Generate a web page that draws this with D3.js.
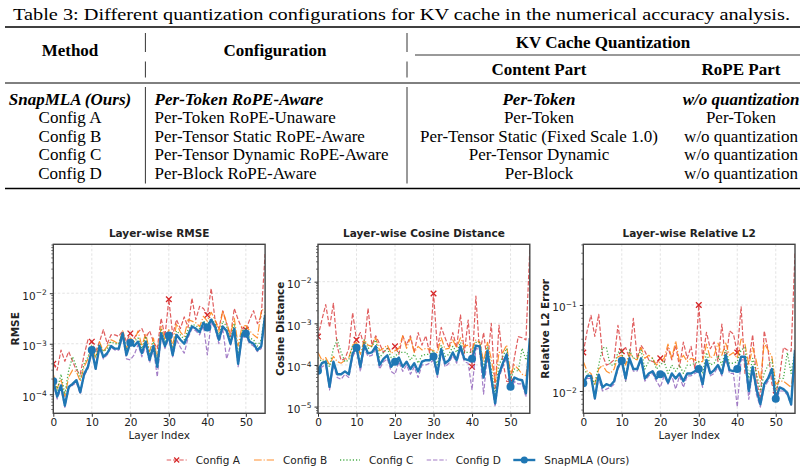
<!DOCTYPE html>
<html>
<head>
<style>
  body {
    margin: 0;
    background-color: #fff;
  }
  svg { display: block; }
  .tbl {
    font-family: 'Liberation Serif', 'Times New Roman', serif;
    font-size: 17px;
    fill: #000;
  }
  .chart {
    font-family: 'DejaVu Sans', sans-serif;
    font-size: 10px;
    fill: #222;
  }
</style>
  <script src="https://d3js.org/d3.v7.min.js"></script>
</head>
<body>
<script>
// ---- table data ----
const tableTitle = 'Table 3: Different quantization configurations for KV cache in the numerical accuracy analysis.';
const methods = ['SnapMLA (Ours)', 'Config A', 'Config B', 'Config C', 'Config D'];
const configurations = ['Per-Token RoPE-Aware', 'Per-Token RoPE-Unaware', 'Per-Tensor Static RoPE-Aware',
  'Per-Tensor Dynamic RoPE-Aware', 'Per-Block RoPE-Aware'];
const contentParts = ['Per-Token', 'Per-Token', 'Per-Tensor Static (Fixed Scale 1.0)', 'Per-Tensor Dynamic', 'Per-Block'];
const ropeParts = ['w/o quantization', 'Per-Token', 'w/o quantization', 'w/o quantization', 'w/o quantization'];

// ---- chart data (layer 0..55) ----
const seriesNames = ['Config A', 'Config B', 'Config C', 'Config D', 'SnapMLA (Ours)'];
const xTicks = [0, 10, 20, 30, 40, 50];

const rmseA = [4e-4, 3e-4, 7.5e-4, 4.5e-4, 7e-4, 4.5e-4, 3e-4, 2.5e-4, 6e-4, 1.2e-3,
  1.1e-3, 7e-4, 1.1e-3, 1.9e-3, 1e-3, 1.5e-3, 1.5e-3, 1.4e-3, 1.8e-3, 1.1e-3,
  1.6e-3, 1.3e-3, 1.7e-3, 2e-3, 1.3e-3, 1.8e-3, 1.1e-3, 8e-4, 3.2e-3, 1.4e-3,
  7.6e-3, 1.5e-3, 3e-3, 2e-3, 3.4e-3, 2.1e-3, 8e-3, 3e-3, 5.5e-3, 5e-3,
  3.7e-3, 1.25e-2, 3e-3, 2e-3, 4.5e-3, 2.5e-3, 1.4e-3, 5e-3, 3e-3, 2e-3,
  1.9e-3, 3e-3, 4.5e-3, 2.5e-3, 3.5e-3, 6e-2];
const rmseB = [2.5e-4, 1.3e-4, 2e-4, 9e-5, 2.2e-4, 3e-4, 2.8e-4, 1.8e-4, 3.5e-4, 5e-4,
  9e-4, 5e-4, 1.1e-3, 7e-4, 9e-4, 1.2e-3, 1.1e-3, 1e-3, 1.8e-3, 8e-4,
  1.3e-3, 1.1e-3, 1.8e-3, 9e-4, 1.6e-3, 7e-4, 1.3e-3, 5e-4, 2.2e-3, 1.2e-3,
  1.9e-3, 9e-4, 2.5e-3, 1.7e-3, 1.4e-3, 3e-3, 2.8e-3, 2.6e-3, 2.2e-3, 3.5e-3,
  2.8e-3, 4.2e-3, 3e-3, 1.7e-3, 4.5e-3, 2.6e-3, 1.5e-3, 3.2e-3, 9e-4, 2.2e-3,
  2.3e-3, 1.8e-3, 1.5e-3, 1.3e-3, 4.5e-3, 5e-3];
const rmseC = [2.2e-4, 1.2e-4, 2.5e-4, 1e-4, 3e-4, 5.5e-4, 3.5e-4, 2e-4, 4e-4, 5.5e-4,
  9.5e-4, 5.5e-4, 1e-3, 7e-4, 8e-4, 1.1e-3, 1e-3, 1e-3, 1.7e-3, 7.5e-4,
  1.2e-3, 1.1e-3, 1.3e-3, 8e-4, 1.4e-3, 6e-4, 1.1e-3, 4.5e-4, 1.9e-3, 1.1e-3,
  1.6e-3, 8e-4, 1.8e-3, 1.5e-3, 1.2e-3, 1.9e-3, 2.4e-3, 2.3e-3, 2e-3, 2.8e-3,
  2.4e-3, 3.2e-3, 2.5e-3, 1.4e-3, 2.8e-3, 2.2e-3, 1.2e-3, 2.5e-3, 6e-4, 1.8e-3,
  2e-3, 1.3e-3, 1.2e-3, 9e-4, 1.2e-3, 4.5e-3];
const rmseD = [1.6e-4, 8e-5, 1.3e-4, 5.5e-5, 1.3e-4, 1.5e-4, 1.7e-4, 1e-4, 2.3e-4, 3.2e-4,
  7e-4, 3e-4, 8.5e-4, 5e-4, 6e-4, 8.5e-4, 7.5e-4, 7.5e-4, 1.4e-3, 5e-4,
  4.8e-4, 6e-4, 9.5e-4, 5.5e-4, 9e-4, 4.2e-4, 8e-4, 2.2e-4, 1.4e-3, 8e-4,
  1.3e-3, 5.5e-4, 1.2e-3, 8.5e-4, 6.5e-4, 1.3e-3, 2e-3, 1.8e-3, 1.5e-3, 2.3e-3,
  6e-4, 2.7e-3, 2e-3, 1e-3, 2e-3, 5e-4, 9e-4, 1.8e-3, 3.5e-4, 1.3e-3,
  1.4e-3, 1e-3, 9e-4, 7e-4, 8e-4, 3.5e-3];
const rmseOurs = [1.8e-4, 9e-5, 1.5e-4, 6e-5, 1.4e-4, 1.6e-4, 1.9e-4, 1.1e-4, 2.5e-4, 3.5e-4,
  7.5e-4, 3.2e-4, 9e-4, 5.5e-4, 6.5e-4, 9e-4, 8e-4, 8e-4, 1.6e-3, 6e-4,
  1.05e-3, 9e-4, 1.1e-3, 6.5e-4, 1.1e-3, 4.8e-4, 9e-4, 3.5e-4, 1.6e-3, 9e-4,
  1.45e-3, 6e-4, 1.5e-3, 1.2e-3, 1e-3, 1.5e-3, 2.2e-3, 2e-3, 1.7e-3, 2.6e-3,
  2.1e-3, 3e-3, 2.2e-3, 1.2e-3, 2.2e-3, 1.8e-3, 1e-3, 2e-3, 4e-4, 1.5e-3,
  1.6e-3, 1.1e-3, 1e-3, 7.5e-4, 9e-4, 3.7e-3];

const cosA = [4.8e-4, 1.2e-3, 2.8e-3, 8e-4, 3e-3, 2.7e-4, 1.3e-4, 1.4e-4, 2.5e-4, 1.8e-3,
  4e-4, 6e-4, 2.8e-4, 2.3e-3, 3e-4, 5e-4, 3.2e-4, 2e-4, 2.5e-4, 2.3e-4,
  2.8e-4, 1.8e-4, 5e-4, 3e-4, 5e-4, 2e-4, 6e-4, 3e-4, 5e-4, 1.9e-4,
  5.2e-3, 2.5e-4, 8e-4, 4.5e-4, 2.6e-4, 6e-4, 2.6e-4, 1.6e-3, 1.9e-4, 1.2e-3,
  9e-5, 4.5e-3, 1.8e-4, 6e-4, 1.1e-4, 1e-3, 2.5e-5, 9e-4, 1.2e-4, 4e-5,
  4e-5, 1.5e-4, 4.8e-4, 4.5e-4, 4e-4, 6e-2];
const cosB = [2e-4, 1.3e-4, 1.5e-4, 1e-4, 1.6e-4, 1.2e-4, 1.1e-4, 1.3e-4, 1.5e-4, 3e-4,
  3.5e-4, 1.8e-4, 4e-4, 3e-4, 2.8e-4, 4.5e-4, 2.2e-4, 2.5e-4, 3e-4, 1.9e-4,
  2.2e-4, 2.5e-4, 5e-4, 2.5e-4, 4.5e-4, 2e-4, 2.8e-4, 2.3e-4, 2.5e-4, 2.4e-4,
  2.2e-4, 2e-4, 4.5e-4, 2.4e-4, 2.5e-4, 4e-4, 2.6e-4, 4.5e-4, 2.8e-4, 3e-4,
  2.4e-4, 4e-4, 3.5e-4, 1.2e-4, 3.5e-4, 1.4e-4, 4e-5, 2e-4, 2e-4, 3e-4,
  6e-5, 1e-4, 8e-5, 6e-5, 5.5e-5, 3.5e-4];
const cosC = [1.5e-4, 1.2e-4, 1.3e-4, 9e-5, 2.5e-4, 4e-4, 2e-4, 1.2e-4, 1.3e-4, 3e-4,
  3e-4, 1e-4, 4e-4, 2.5e-4, 2.8e-4, 4e-4, 1.5e-4, 2e-4, 2.5e-4, 1.5e-4,
  1.6e-4, 2e-4, 2e-4, 2e-4, 1.3e-4, 1.8e-4, 1.1e-4, 1.7e-4, 1.8e-4, 1.8e-4,
  2.2e-4, 1e-4, 3e-4, 1.6e-4, 1.8e-4, 2.8e-4, 2e-4, 3.5e-4, 2e-4, 2e-4,
  2e-4, 3.5e-4, 3.5e-4, 8e-5, 2.8e-4, 8e-5, 2e-5, 1e-4, 1.6e-4, 2.5e-4,
  4.5e-5, 8e-5, 7e-5, 2.5e-4, 1.3e-4, 3e-4];
const cosD = [6e-5, 9e-5, 1e-4, 2.5e-5, 1e-4, 5e-5, 4.5e-5, 6e-5, 5e-5, 1.6e-4,
  2.3e-4, 7e-5, 2.5e-4, 1.6e-4, 1.7e-4, 2.4e-4, 8e-5, 1.2e-4, 1.4e-4, 7e-5,
  6e-5, 1.2e-4, 7e-5, 1e-4, 6e-5, 9e-5, 5e-5, 1e-4, 1e-4, 1.1e-4,
  1.3e-4, 5e-5, 2e-4, 9e-5, 1.1e-4, 1.7e-4, 1.1e-4, 2.4e-4, 1.2e-4, 1.1e-4,
  2.5e-5, 2.5e-4, 2.3e-4, 2e-5, 1.8e-4, 4e-5, 1e-5, 5e-5, 9e-5, 1.5e-4,
  2.5e-5, 4e-5, 3.5e-5, 3.5e-5, 1.7e-5, 3.5e-4];
const cosOurs = [7.3e-5, 1.1e-4, 1.2e-4, 3e-5, 1.2e-4, 6e-5, 6e-5, 7e-5, 6e-5, 1.9e-4,
  2.6e-4, 9e-5, 3e-4, 1.9e-4, 2e-4, 2.8e-4, 1e-4, 1.4e-4, 1.7e-4, 9e-5,
  1.2e-4, 1.5e-4, 9e-5, 1.2e-4, 8e-5, 1.1e-4, 7e-5, 1.2e-4, 1.3e-4, 1.3e-4,
  1.6e-4, 6e-5, 2.4e-4, 1.1e-4, 1.3e-4, 2e-4, 1.3e-4, 2.8e-4, 1.4e-4, 1.3e-4,
  1.4e-4, 2.9e-4, 2.8e-4, 5e-5, 2.2e-4, 5e-5, 1.2e-5, 6e-5, 1.1e-4, 1.8e-4,
  3e-5, 5e-5, 4.5e-5, 4.3e-5, 2.1e-5, 4.4e-4];

const l2A = [2.8e-2, 5e-2, 7.6e-2, 4.3e-2, 7.8e-2, 2.6e-2, 2e-2, 2.1e-2, 2.3e-2, 5.8e-2,
  2.9e-2, 3.2e-2, 2.4e-2, 7e-2, 2.4e-2, 3.4e-2, 2.9e-2, 2.3e-2, 2.2e-2, 2.1e-2,
  2.4e-2, 2.1e-2, 3.2e-2, 2.3e-2, 3.4e-2, 1.9e-2, 3.7e-2, 2.4e-2, 3.3e-2, 1.8e-2,
  1e-1, 2.4e-2, 4.8e-2, 3.1e-2, 3.7e-2, 2.2e-2, 6e-2, 2.1e-2, 5e-2, 4.6e-2,
  2.8e-2, 9.5e-2, 1.6e-2, 2.2e-2, 4.5e-2, 1.4e-2, 7.5e-3, 5e-2, 3e-2, 1.2e-2,
  9e-3, 1.5e-2, 3.2e-2, 3e-2, 2.9e-2, 4e-1];
const l2B = [2.2e-2, 1.7e-2, 1.6e-2, 1.2e-2, 1.8e-2, 2e-2, 1.7e-2, 1.6e-2, 1.8e-2, 2.5e-2,
  2.6e-2, 2e-2, 2.8e-2, 2.4e-2, 2.3e-2, 3.2e-2, 2.4e-2, 2.6e-2, 2.4e-2, 2e-2,
  2.2e-2, 2.4e-2, 3.5e-2, 2.4e-2, 3.8e-2, 2.2e-2, 2.6e-2, 2.2e-2, 2.4e-2, 2.3e-2,
  2.2e-2, 2.2e-2, 3.5e-2, 2.4e-2, 2.6e-2, 3.6e-2, 2.6e-2, 3.6e-2, 2.6e-2, 2.8e-2,
  2.4e-2, 4e-2, 3.5e-2, 2e-2, 3.2e-2, 2.2e-2, 1.3e-2, 3.6e-2, 3e-2, 2.5e-2,
  1.2e-2, 1.3e-2, 1.3e-2, 1.2e-2, 1.1e-2, 2.5e-2];
const l2C = [1.8e-2, 1.6e-2, 1.5e-2, 1.2e-2, 2e-2, 3.2e-2, 3.2e-2, 2e-2, 2e-2, 2.8e-2,
  3e-2, 1.3e-2, 3e-2, 2.4e-2, 2.4e-2, 3e-2, 1.8e-2, 2.2e-2, 2.4e-2, 1.8e-2,
  2e-2, 2.2e-2, 1.6e-2, 2e-2, 1.7e-2, 2e-2, 1.6e-2, 2e-2, 2e-2, 2.1e-2,
  2.2e-2, 1.6e-2, 2.8e-2, 2e-2, 2.1e-2, 2.6e-2, 2e-2, 3e-2, 2.1e-2, 2.1e-2,
  2.2e-2, 3e-2, 3.2e-2, 1.4e-2, 2.4e-2, 1.6e-2, 1e-2, 1.6e-2, 2e-2, 2.3e-2,
  1e-2, 1.4e-2, 1.4e-2, 2.8e-2, 1.6e-2, 3e-2];
const l2D = [1.2e-2, 1.4e-2, 1.4e-2, 8e-3, 1.4e-2, 1e-2, 1.05e-2, 1.1e-2, 1.2e-2, 1.8e-2,
  2.1e-2, 1.3e-2, 2.3e-2, 1.7e-2, 1.7e-2, 2.3e-2, 1.3e-2, 1.5e-2, 1.6e-2, 1.3e-2,
  1.1e-2, 1.5e-2, 1.2e-2, 1.5e-2, 1.05e-2, 1.5e-2, 1.1e-2, 1.5e-2, 1.5e-2, 1.6e-2,
  1.7e-2, 1.1e-2, 2.2e-2, 1.5e-2, 1.6e-2, 1.9e-2, 1.5e-2, 2.4e-2, 1.6e-2, 1.6e-2,
  6.5e-3, 2.3e-2, 2.3e-2, 8e-3, 1.8e-2, 9e-3, 6.5e-3, 1.1e-2, 1.3e-2, 1.7e-2,
  7.5e-3, 1e-2, 1e-2, 9e-3, 6.8e-3, 3e-2];
const l2Ours = [1.23e-2, 1.5e-2, 1.5e-2, 8.2e-3, 1.55e-2, 1.1e-2, 1.2e-2, 1.15e-2, 1.3e-2, 1.9e-2,
  2.25e-2, 1.4e-2, 2.4e-2, 1.8e-2, 1.8e-2, 2.4e-2, 1.4e-2, 1.6e-2, 1.7e-2, 1.4e-2,
  1.57e-2, 1.6e-2, 1.25e-2, 1.6e-2, 1.4e-2, 1.6e-2, 1.3e-2, 1.6e-2, 1.6e-2, 1.7e-2,
  1.8e-2, 1.2e-2, 2.3e-2, 1.6e-2, 1.75e-2, 2e-2, 1.6e-2, 2.6e-2, 1.75e-2, 1.7e-2,
  1.8e-2, 2.5e-2, 2.5e-2, 1e-2, 1.9e-2, 1.05e-2, 7e-3, 1.2e-2, 1.4e-2, 1.8e-2,
  8.1e-3, 1.1e-2, 1.05e-2, 9.5e-3, 7e-3, 3e-2];

// ---- styles ----
const styles = [
  { color: '#d62728', dash: '4.4,1.9', width: 1.2, marker: 'x', alpha: 0.75 },
  { color: '#ff7f0e', dash: '7.7,1.9,1.2,1.9', width: 1.2, alpha: 0.85 },
  { color: '#2ca02c', dash: '1.2,2', width: 1.3, alpha: 0.85 },
  { color: '#9467bd', dash: '4.4,1.9', width: 1.2, alpha: 0.85 },
  { color: '#1f77b4', dash: null, width: 2.4, marker: 'o', alpha: 1 },
];

const svg = d3.select('body')
  .append('svg')
  .attr('width', 805)
  .attr('height', 472);

// ================= table =================
const tbl = svg.append('g').attr('class', 'tbl');

tbl.append('text')
  .attr('x', 401.5).attr('y', 20)
  .attr('text-anchor', 'middle')
  .attr('textLength', 777).attr('lengthAdjust', 'spacingAndGlyphs')
  .text(tableTitle);

const rule = (x1, x2, y, w) => tbl.append('line')
  .attr('x1', x1).attr('x2', x2).attr('y1', y).attr('y2', y)
  .attr('stroke', '#000').attr('stroke-width', w);
const vrule = (x, y1, y2) => tbl.append('line')
  .attr('x1', x).attr('x2', x).attr('y1', y1).attr('y2', y2)
  .attr('stroke', '#000').attr('stroke-width', 0.8);

rule(5, 800, 27, 1.5);
rule(415, 800, 55, 0.8);
rule(5, 800, 83, 1);
rule(5, 800, 188.5, 1.5);

[145.4, 407].forEach(x => {
  vrule(x, 33, 52);
  vrule(x, 61.5, 77.5);
  vrule(x, 87, 183.5);
});

const colMethod = 70, colConfig = 154.6, colContent = 539, colRope = 741;

const header = (txt, x, y) => tbl.append('text')
  .attr('x', x).attr('y', y + 5.5)
  .attr('text-anchor', 'middle')
  .attr('font-weight', 'bold')
  .text(txt);

header('Method', colMethod, 50.5);
header('Configuration', 275, 50.5);
header('KV Cache Quantization', 603, 42.5);
header('Content Part', colContent, 69.3);
header('RoPE Part', colRope, 69.3);

const rowY = d3.scalePoint().domain(methods).range([99.3, 173.3]);

const cell = (txt, x, y, anchor, strong) => tbl.append('text')
  .attr('x', x).attr('y', y + 5.5)
  .attr('text-anchor', anchor)
  .attr('font-weight', strong ? 'bold' : null)
  .attr('font-style', strong ? 'italic' : null)
  .text(txt);

methods.forEach((m, i) => {
  const y = rowY(m);
  const strong = i === 0;
  cell(m, colMethod, y, 'middle', strong);
  cell(configurations[i], colConfig, y, 'start', strong);
  cell(contentParts[i], colContent, y, 'middle', strong);
  cell(ropeParts[i], colRope, y, 'middle', strong);
});

// ================= charts =================
const plotTop = 244.3, plotBottom = 413.3;

const panels = [
  { title: 'Layer-wise RMSE', ylabel: 'RMSE', left: 53.3, right: 265.1, labelX: 15,
    domain: [4.2e-5, 0.093], series: [rmseA, rmseB, rmseC, rmseD, rmseOurs] },
  { title: 'Layer-wise Cosine Distance', ylabel: 'Cosine Distance', left: 318, right: 529.8, labelX: 280,
    domain: [6.9e-6, 0.079], series: [cosA, cosB, cosC, cosD, cosOurs] },
  { title: 'Layer-wise Relative L2', ylabel: 'Relative L2 Error', left: 583.3, right: 795, labelX: 545,
    domain: [0.0055, 0.508], series: [l2A, l2B, l2C, l2D, l2Ours] },
];

const supMinus = n => (n < 0 ? '\u2212' + (-n) : '' + n);

const drawX = (g, cx, cy, s, color, w) => {
  g.append('path')
    .attr('d', `M${cx - s},${cy - s}L${cx + s},${cy + s}M${cx - s},${cy + s}L${cx + s},${cy - s}`)
    .attr('stroke', color).attr('stroke-width', w).attr('fill', 'none');
};

panels.forEach((p, pi) => {
  const g = svg.append('g').attr('class', 'chart');
  const x = d3.scaleLinear().domain([0, 55]).range([p.left, p.right]);
  const y = d3.scaleLog().domain(p.domain).range([plotBottom, plotTop]);

  const lo = Math.floor(Math.log10(p.domain[0]));
  const hi = Math.ceil(Math.log10(p.domain[1]));
  const majors = [], minors = [];
  for (let e = lo; e <= hi; e++) {
    for (let k = 1; k <= 9; k++) {
      const v = k * Math.pow(10, e);
      if (v < p.domain[0] || v > p.domain[1]) continue;
      (k === 1 ? majors : minors).push(v);
    }
  }

  // grid
  g.append('g').selectAll('line').data(xTicks).join('line')
    .attr('x1', d => x(d)).attr('x2', d => x(d)).attr('y1', plotTop).attr('y2', plotBottom)
    .attr('stroke', '#dcdcdc').attr('stroke-width', 0.8).attr('stroke-dasharray', '2.5,2');
  g.append('g').selectAll('line').data(majors).join('line')
    .attr('x1', p.left).attr('x2', p.right).attr('y1', d => y(d)).attr('y2', d => y(d))
    .attr('stroke', '#dcdcdc').attr('stroke-width', 0.8).attr('stroke-dasharray', '2.5,2');

  // axes
  const xAxis = g.append('g').attr('transform', `translate(0,${plotBottom})`)
    .call(d3.axisBottom(x).tickValues(xTicks).tickSize(3.5).tickPadding(2));
  xAxis.select('.domain').remove();
  xAxis.selectAll('text').attr('font-size', 10.5).attr('fill', '#222').attr('font-family', 'DejaVu Sans, sans-serif');
  xAxis.selectAll('line').attr('stroke', '#333');

  const yAxis = g.append('g').attr('transform', `translate(${p.left},0)`)
    .call(d3.axisLeft(y).tickValues(majors).tickSize(3.5).tickPadding(3).tickFormat(() => ''));
  yAxis.select('.domain').remove();
  yAxis.selectAll('line').attr('stroke', '#333');
  yAxis.selectAll('text').each(function(d) {
    const t = d3.select(this)
      .attr('font-size', 10.5).attr('fill', '#222').attr('font-family', 'DejaVu Sans, sans-serif')
      .attr('dy', '0.55em');
    t.append('tspan').text('10');
    t.append('tspan').attr('font-size', 7.5).attr('dy', '-0.6em').text(supMinus(Math.round(Math.log10(d))));
  });
  g.append('g').selectAll('line').data(minors).join('line')
    .attr('x1', p.left - 2).attr('x2', p.left).attr('y1', d => y(d)).attr('y2', d => y(d))
    .attr('stroke', '#333').attr('stroke-width', 0.7);

  // lines
  const clipId = 'clip' + pi;
  g.append('clipPath').attr('id', clipId).append('rect')
    .attr('x', p.left).attr('y', plotTop).attr('width', p.right - p.left).attr('height', plotBottom - plotTop);
  const plot = g.append('g').attr('clip-path', `url(#${clipId})`);
  const line = d3.line().x((d, i) => x(i)).y(d => y(d));

  p.series.forEach((vals, si) => {
    const st = styles[si];
    plot.append('path')
      .datum(vals)
      .attr('d', line)
      .attr('fill', 'none')
      .attr('stroke', st.color)
      .attr('stroke-width', st.width)
      .attr('stroke-dasharray', st.dash)
      .attr('stroke-linejoin', 'round')
      .attr('opacity', st.alpha);
    const marks = vals.map((v, i) => [i, v]).filter(d => d[0] % 10 === 0);
    if (st.marker === 'o') {
      plot.selectAll(null).data(marks).join('circle')
        .attr('cx', d => x(d[0])).attr('cy', d => y(d[1])).attr('r', 4)
        .attr('fill', st.color);
    } else if (st.marker === 'x') {
      marks.forEach(d => drawX(plot, x(d[0]), y(d[1]), 2.8, st.color, 1.3));
    }
  });

  // frame
  g.append('rect')
    .attr('x', p.left).attr('y', plotTop).attr('width', p.right - p.left).attr('height', plotBottom - plotTop)
    .attr('fill', 'none').attr('stroke', '#444').attr('stroke-width', 1.4);

  // labels
  g.append('text')
    .attr('x', (p.left + p.right) / 2).attr('y', 237)
    .attr('text-anchor', 'middle').attr('font-weight', 'bold').attr('font-size', 10.5)
    .text(p.title);
  g.append('text')
    .attr('x', (p.left + p.right) / 2).attr('y', 439)
    .attr('text-anchor', 'middle').attr('font-size', 10.5)
    .text('Layer Index');
  g.append('text')
    .attr('transform', `translate(${p.labelX + 4},${(plotTop + plotBottom) / 2}) rotate(-90)`)
    .attr('text-anchor', 'middle').attr('font-weight', 'bold').attr('font-size', 10.5)
    .text(p.ylabel);
});

// ================= legend =================
const legend = svg.append('g').attr('class', 'chart');
const legendX = [166.7, 254, 340, 426.7, 513.3];
const legendY = 460;
seriesNames.forEach((name, i) => {
  const st = styles[i];
  const x0 = legendX[i], len = i === 4 ? 22 : 20;
  legend.append('line')
    .attr('x1', x0).attr('x2', x0 + len).attr('y1', legendY).attr('y2', legendY)
    .attr('stroke', st.color).attr('stroke-width', st.width)
    .attr('stroke-dasharray', st.dash).attr('opacity', st.alpha);
  if (st.marker === 'o') {
    legend.append('circle').attr('cx', x0 + len / 2).attr('cy', legendY).attr('r', 3.5).attr('fill', st.color);
  } else if (st.marker === 'x') {
    drawX(legend, x0 + len / 2, legendY, 2.5, st.color, 1.2);
  }
  legend.append('text')
    .attr('x', x0 + len + 9).attr('y', legendY + 3.6)
    .attr('font-size', 10.5)
    .text(name);
});
</script>
</body>
</html>
